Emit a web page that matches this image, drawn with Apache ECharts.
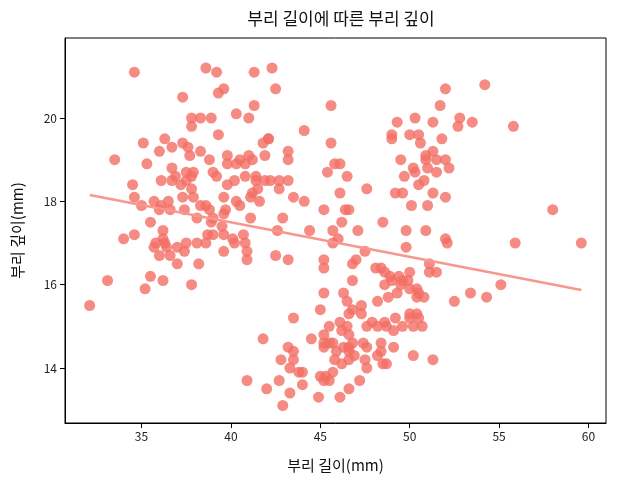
<!DOCTYPE html>
<html>

<head>
    <meta charset="UTF-8">
    <script src="https://cdn.jsdelivr.net/npm/echarts@6.0.0/dist/echarts.min.js"></script>
    <style>
        html, body { margin: 0; padding: 0; background: #fff; }
    </style>
</head>

<body>
    <div id="main" style="width: 617px; height: 484px;"></div>
    <script>
        // 부리 길이(mm), 부리 깊이(mm) - 그림에서 읽은 값
        const billLength = [
            34.6, 38.6, 39.2, 41.3, 39.6, 39.3, 37.3, 37.8, 38.3, 38.9, 37.8, 40.3, 41.0, 41.3, 39.3, 35.1, 36.3, 37.3, 36.7, 37.6, 33.5,
            36.0, 35.3, 36.7, 36.9, 36.7, 36.1, 37.5, 37.2, 37.5, 34.5, 34.6, 35.0, 35.7, 36.1, 36.0, 36.5, 36.6, 37.3, 37.4, 35.5,
            34.6, 36.2, 36.2, 36.3, 35.8, 35.7, 36.4, 37.0, 37.4, 37.5, 36.0, 36.6,
            34.0, 37.0, 38.2, 40.9, 33.1, 35.5, 35.2, 36.2, 37.8, 32.1, 40.9,
            38.3, 37.7, 38.8, 39.8, 40.5, 41.0, 41.2, 40.8, 40.3, 39.8, 41.8, 41.9, 37.9, 37.8, 39.0, 39.2, 40.8, 41.4, 41.4, 39.8,
            40.2, 41.9, 37.8, 37.9, 38.3, 39.6, 39.7, 39.6, 40.3, 40.5, 41.2, 41.5, 41.6, 41.1, 38.6, 38.8, 39.0, 38.1, 38.9, 41.1,
            39.5, 38.1, 38.7, 38.6, 39.0, 39.6, 40.1, 40.7, 40.2, 40.8, 40.9, 39.6, 42.1,
            42.3, 42.5, 45.6, 44.1, 45.6, 42.1, 43.2, 43.2, 45.8, 46.1, 45.4, 46.5, 42.2, 42.7, 43.2, 42.7, 43.5, 44.1, 46.1, 47.6,
            45.2, 46.6, 46.4, 42.9, 46.2, 42.6, 44.4, 45.7, 47.1, 49.3, 50.3,
            49.0, 49.0, 50.0, 50.5, 50.6, 51.8, 49.5, 50.9, 51.3, 50.9, 51.5, 52.0, 50.2, 50.3, 51.0, 51.5, 49.7, 50.5, 50.8, 49.2,
            49.6, 51.3, 52.0, 50.1, 51.0, 48.5, 49.8, 50.9, 52.0, 49.8,
            52.0, 54.2, 51.7, 51.3, 52.8, 52.7, 53.5, 55.8, 52.2, 58.0,
            52.1, 55.9, 59.6, 55.1, 53.4, 54.3, 52.5, 51.3,
            48.1, 48.4, 48.6, 48.9, 49.0, 48.6, 49.4, 49.6, 50.0, 49.9, 49.5, 50.0, 49.3, 50.4, 50.5, 50.4, 50.8, 48.8, 48.2, 51.1,
            51.1, 51.5, 47.3, 47.3, 47.6, 47.9, 48.2, 48.6, 48.7, 49.2, 49.6, 49.1, 50.0, 50.4, 50.0, 50.2, 50.7, 50.5,
            45.0, 46.5, 46.8, 46.6, 45.5, 46.1, 46.5, 46.2, 46.6, 44.5, 45.2, 45.2, 45.5, 45.7, 45.2, 45.9, 46.3, 46.6, 46.6, 46.8,
            46.9, 46.6, 45.8, 46.2, 47.4, 47.6, 47.5, 47.6, 45.0, 45.3, 45.5, 45.2, 45.7, 44.0, 44.0, 47.2, 46.6, 46.1, 44.9,
            45.7, 46.0, 42.5, 43.2, 45.2, 45.2, 46.8, 47.0, 46.8, 46.3, 45.2, 43.5, 41.8, 47.5,
            48.4, 48.4, 48.2, 48.5, 48.7, 49.1, 50.2,
            43.2, 43.5, 43.5, 42.8, 43.3, 43.8, 42.7, 43.3, 42.0, 42.9
        ];
        const billDepth = [
            21.1, 21.2, 21.1, 21.1, 20.7, 20.6, 20.5, 20.0, 20.0, 20.0, 19.8, 20.1, 20.0, 20.3, 19.6, 19.4, 19.5, 19.4, 19.3, 19.3, 19.0,
            19.2, 18.9, 18.8, 18.6, 18.5, 18.5, 18.5, 18.4, 18.7, 18.4, 18.1, 17.9, 18.0, 17.9, 17.8, 18.0, 17.8, 18.1, 17.8, 17.5,
            17.2, 17.3, 17.1, 17.0, 17.0, 16.9, 16.9, 16.9, 16.8, 17.0, 16.7, 16.7,
            17.1, 16.5, 16.5, 16.6, 16.1, 16.2, 15.9, 16.1, 16.0, 15.5, 13.7,
            19.2, 19.1, 19.0, 19.1, 19.0, 19.1, 19.0, 18.9, 18.9, 18.9, 19.4, 19.1, 18.7, 18.6, 18.7, 18.6, 18.6, 18.6, 18.5, 18.4,
            18.5, 18.5, 18.3, 18.1, 17.9, 18.1, 17.8, 17.7, 18.0, 17.9, 18.2, 18.3, 18.0, 18.1, 17.9, 17.8, 17.6, 17.6, 17.5, 17.6,
            17.4, 17.0, 17.2, 17.0, 17.2, 17.2, 17.1, 17.2, 17.0, 17.0, 16.8, 16.8, 19.5,
            21.2, 20.7, 20.3, 19.7, 19.4, 19.5, 19.2, 19.0, 18.9, 18.9, 18.7, 18.6, 18.5, 18.5, 18.5, 18.3, 18.1, 18.0, 18.2, 18.3,
            17.8, 17.8, 17.8, 17.6, 17.5, 17.3, 17.3, 17.3, 17.3, 19.9, 20.0,
            19.6, 19.5, 19.6, 19.6, 19.4, 19.5, 19.0, 19.1, 19.2, 19.0, 19.0, 19.0, 18.8, 18.7, 18.8, 18.7, 18.6, 18.4, 18.5, 18.2,
            18.2, 18.2, 18.1, 17.9, 17.9, 17.5, 17.3, 17.3, 17.1, 16.9,
            20.7, 20.8, 20.3, 19.9, 20.0, 19.8, 19.9, 19.8, 18.8, 17.8,
            17.0, 17.0, 17.0, 16.0, 15.8, 15.7, 15.6, 14.2,
            16.4, 16.4, 16.3, 16.2, 16.1, 16.0, 16.2, 16.1, 16.3, 16.1, 16.0, 15.9, 15.8, 15.9, 15.8, 15.7, 15.7, 15.7, 15.6, 16.5,
            16.3, 16.3, 15.5, 15.3, 15.0, 15.1, 15.0, 15.1, 15.0, 15.2, 15.0, 14.9, 15.3, 15.3, 15.2, 15.0, 15.0, 15.2,
            15.4, 15.6, 15.4, 15.3, 15.0, 15.1, 15.0, 14.9, 14.8, 14.7, 14.8, 14.6, 14.6, 14.6, 14.5, 14.4, 14.5, 14.5, 14.4, 14.6,
            14.3, 14.2, 14.2, 14.1, 14.6, 14.5, 14.2, 14.0, 13.8, 13.8, 13.7, 13.7, 13.9, 13.9, 13.6, 13.7, 13.5, 13.3, 13.3,
            17.0, 17.1, 16.7, 16.6, 16.6, 16.4, 16.5, 16.6, 16.1, 15.8, 15.8, 15.2, 14.7, 16.8,
            14.6, 14.4, 14.3, 14.1, 14.1, 14.5, 14.3,
            14.5, 14.4, 14.2, 14.2, 14.0, 13.9, 13.7, 13.4, 13.5, 13.1
        ];
        // 회귀선 양 끝점
        const fitX = [32.1, 59.6];
        const fitY = [18.15, 15.87];
        const xTicks = [35, 40, 45, 50, 55, 60];
        const yTicks = [14, 16, 18, 20];

        const points = billLength.map(function (v, i) { return [v, billDepth[i]]; });
        const fitLine = fitX.map(function (v, i) { return [v, fitY[i]]; });

        const font = '"Noto Sans CJK KR", "Noto Sans", sans-serif';
        var myChart = echarts.init(document.getElementById('main'), null, { renderer: 'canvas' });
        var option = {
            animation: false,
            backgroundColor: '#ffffff',
            textStyle: { fontFamily: font },
            title: {
                text: '부리 길이에 따른 부리 깊이',
                left: 336,
                textAlign: 'center',
                top: 5,
                textStyle: { fontFamily: font, fontSize: 17, fontWeight: 'normal', color: '#111' }
            },
            grid: {
                left: 65,
                right: 11,
                top: 38,
                bottom: 61,
                show: true,
                borderColor: '#000',
                borderWidth: 1
            },
            xAxis: {
                type: 'value',
                min: 30.72,
                max: 60.98,
                name: '부리 길이(mm)',
                nameLocation: 'middle',
                nameGap: 35,
                nameTextStyle: { fontFamily: font, fontSize: 15, color: '#111' },
                axisLine: { show: true, lineStyle: { color: '#000' } },
                axisTick: { show: true, length: 5, lineStyle: { color: '#000' }, customValues: xTicks },
                axisLabel: { margin: 7, fontFamily: font, fontSize: 12, color: '#222', customValues: xTicks },
                splitLine: { show: false }
            },
            yAxis: {
                type: 'value',
                min: 12.68,
                max: 21.92,
                name: '부리 깊이(mm)',
                nameLocation: 'middle',
                nameGap: 40,
                nameTextStyle: { fontFamily: font, fontSize: 15, color: '#111' },
                axisLine: { show: true, lineStyle: { color: '#000' } },
                axisTick: { show: true, length: 5, lineStyle: { color: '#000' }, customValues: yTicks },
                axisLabel: { margin: 8, fontFamily: font, fontSize: 12, color: '#222', customValues: yTicks },
                splitLine: { show: false }
            },
            series: [
                {
                    type: 'scatter',
                    data: points,
                    symbolSize: 11,
                    itemStyle: { color: 'rgb(243,110,100)', opacity: 0.8 }
                },
                {
                    type: 'line',
                    data: fitLine,
                    showSymbol: false,
                    z: 3,
                    lineStyle: { color: '#f8978f', width: 2.5 }
                }
            ]
        };

        option && myChart.setOption(option);
    </script>
</body>

</html>
